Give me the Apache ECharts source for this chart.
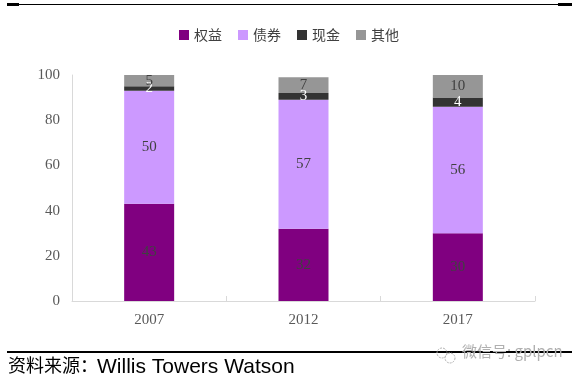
<!DOCTYPE html>
<html><head><meta charset="utf-8">
<script src="https://cdn.jsdelivr.net/npm/echarts@6/dist/echarts.min.js"></script>
<style>html,body{margin:0;padding:0;background:#fff}#c{width:578px;height:383px}</style>
</head><body><div id="c"></div>
<script>
var categories = ['2007', '2012', '2017'];
var equity = [43, 32, 30];
var bonds = [50, 57, 56];
var cash = [2, 3, 4];
var others = [5, 7, 10];
var seriesNames = ['权益', '债券', '现金', '其他'];
var yTicks = [0, 20, 40, 60, 80, 100];

var serif = '"Liberation Serif", "Times New Roman", serif';
function mk(name, data, color, labelColor) {
  return {
    name: name, type: 'bar', stack: 'a', data: data, barWidth: 50,
    itemStyle: {color: color},
    label: {show: true, position: 'inside', color: labelColor, fontFamily: serif, fontSize: 15}
  };
}
var chart = echarts.init(document.getElementById('c'));
chart.setOption({
  animation: false,
  legend: {
    top: 23, left: 'center', itemWidth: 10, itemHeight: 10, itemGap: 16,
    icon: 'rect',
    textStyle: {fontFamily: '"Noto Sans CJK SC"', fontSize: 14, color: '#404040'},
    data: seriesNames
  },
  grid: {left: 72, right: 43, top: 75, bottom: 82},
  xAxis: {
    type: 'category', data: categories,
    axisLine: {lineStyle: {color: '#d9d9d9'}},
    axisTick: {show: true, inside: true, length: 5, lineStyle: {color: '#d9d9d9'}},
    axisLabel: {fontFamily: serif, fontSize: 15, color: '#595959', margin: 12}
  },
  yAxis: {
    type: 'value', min: yTicks[0], max: yTicks[yTicks.length - 1], interval: 20,
    splitLine: {show: false},
    axisLine: {show: true, lineStyle: {color: '#d9d9d9'}},
    axisTick: {show: false},
    axisLabel: {fontFamily: serif, fontSize: 15, color: '#595959', margin: 12}
  },
  series: [
    mk(seriesNames[0], equity, '#800080', '#404040'),
    mk(seriesNames[1], bonds, '#CC99FF', '#404040'),
    mk(seriesNames[2], cash, '#333333', '#ffffff'),
    mk(seriesNames[3], others, '#969696', '#404040')
  ],
  graphic: [
    {type: 'rect', shape: {x: 7, y: 4, width: 565, height: 1}, style: {fill: '#000'}},
    {type: 'rect', shape: {x: 7, y: 3, width: 12, height: 3}, style: {fill: '#000'}},
    {type: 'rect', shape: {x: 558, y: 3, width: 14, height: 3}, style: {fill: '#000'}},
    {type: 'rect', shape: {x: 7, y: 351, width: 565, height: 2}, style: {fill: '#000'}},
    {type: 'text', left: 8, top: 356, style: {text: '资料来源：', font: '18px "Noto Sans CJK SC"', fill: '#000'}},
    {type: 'text', left: 97, top: 357, style: {text: 'Willis Towers Watson', font: '21px "Liberation Sans"', fill: '#000'}},
    {type: 'circle', shape: {cx: 442, cy: 353, r: 5}, style: {fill: 'none', stroke: '#b0b0b0', lineWidth: 1, lineDash: [2, 1]}},
    {type: 'circle', shape: {cx: 450, cy: 358, r: 5}, style: {fill: 'none', stroke: '#b0b0b0', lineWidth: 1, lineDash: [2, 1]}},
    {type: 'text', left: 462, top: 344, style: {text: '微信号: gplpcn', font: '15px "Noto Sans CJK SC"', fill: '#b0b0b0'}}
  ]
});
</script></body></html>
